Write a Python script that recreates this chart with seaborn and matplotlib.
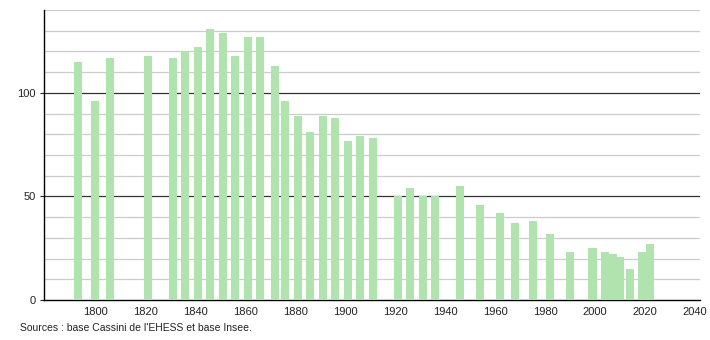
import matplotlib
matplotlib.use("Agg")
import matplotlib.pyplot as plt
import seaborn as sns
import pandas as pd

years = [1793, 1800, 1806, 1821, 1831, 1836, 1841, 1846, 1851, 1856, 1861, 1866,
         1872, 1876, 1881, 1886, 1891, 1896, 1901, 1906, 1911, 1921, 1926, 1931,
         1936, 1946, 1954, 1962, 1968, 1975, 1982, 1990, 1999, 2004, 2007, 2010,
         2014, 2019, 2022]
population = [115, 96, 117, 118, 117, 120, 122, 131, 129, 118, 127, 127,
              113, 96, 89, 81, 89, 88, 77, 79, 78, 50, 54, 50,
              50, 55, 46, 42, 37, 38, 32, 23, 25, 23, 22, 21,
              15, 23, 27]
x_ticks = [1800, 1820, 1840, 1860, 1880, 1900, 1920, 1940, 1960, 1980, 2000, 2020, 2040]
y_ticks = [0, 50, 100]
source_text = "Sources : base Cassini de l'EHESS et base Insee."

df = pd.DataFrame({"year": years, "pop": population})

sns.set_style("white")
plt.rcParams['font.family'] = ['Liberation Sans', 'DejaVu Sans']

fig = plt.figure(figsize=(7.1, 3.4), dpi=100)
ax = fig.add_axes([44 / 710, 1 - 300 / 340, (700 - 44) / 710, 290 / 340])

sns.barplot(data=df, x="year", y="pop", native_scale=True, width=1.08,
            color="#b0e3ad", saturation=1, linewidth=0, ax=ax, zorder=3)

ax.set_xlim(1779.5, 2042)
ax.set_ylim(0, 140)

ax.set_yticks(y_ticks)
ax.set_yticks(list(range(10, 141, 10)), minor=True)
ax.set_xticks(x_ticks)
ax.set_xticklabels([str(t) for t in x_ticks])

ax.set_axisbelow(True)
ax.grid(False)
for v in range(10, 141, 10):
    if v in (50, 100):
        ax.axhline(v, color="#333333", lw=0.9, zorder=1)
    else:
        ax.axhline(v, color="#cccccc", lw=0.9, zorder=1)

for s in ["top", "right"]:
    ax.spines[s].set_visible(False)
ax.spines["left"].set_color("black")
ax.spines["bottom"].set_color("black")
ax.spines["left"].set_linewidth(1)
ax.spines["bottom"].set_linewidth(1)

ax.tick_params(axis="x", length=0, labelsize=8, pad=5, colors="#222222")
ax.tick_params(axis="y", which="major", length=3, labelsize=8, pad=3, colors="#222222", left=True)
ax.tick_params(axis="y", which="minor", length=0)
ax.set_xlabel("")
ax.set_ylabel("")

fig.text(20 / 710, 1 - 328 / 340, source_text, fontsize=7.5, color="#222222", va="center")

fig.savefig("out.png", dpi=100)
